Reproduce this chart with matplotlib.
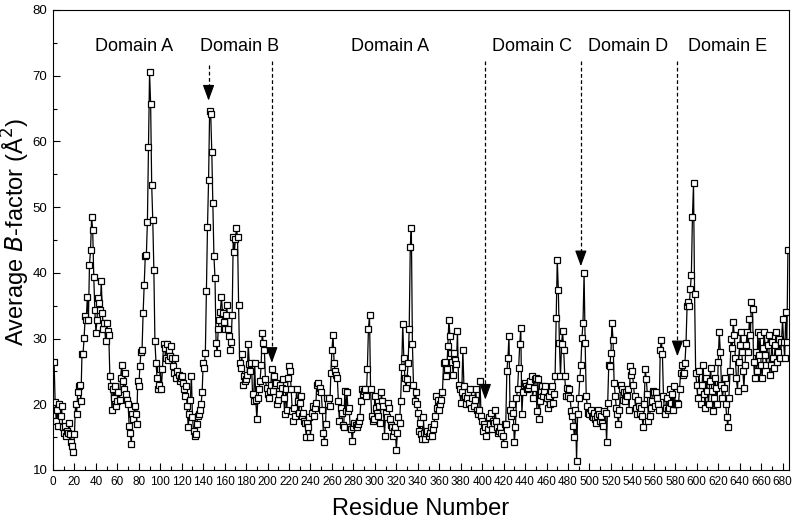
import numpy as np
import matplotlib
matplotlib.use("Agg")
import matplotlib.pyplot as plt
from matplotlib.ticker import MultipleLocator

# Average B-factor per residue
b_factor = [
    26.5, 20.3, 17.5, 19.2, 16.7, 20.0, 18.2, 19.7, 16.5, 15.7,
    16.7, 15.2, 16.0, 15.7, 17.2, 15.5, 14.2, 13.7, 12.8, 15.5,
    20.0, 18.5, 21.8, 22.8, 23.0, 20.5, 27.6, 27.7, 30.1, 33.4,
    32.8, 36.4, 32.8, 41.2, 43.5, 48.5, 46.5, 39.4, 34.3, 30.9,
    32.8, 36.2, 35.4, 34.4, 38.7, 33.9, 31.4, 32.4, 29.6, 32.4,
    31.1, 30.6, 24.3, 22.8, 19.2, 22.3, 21.0, 22.8, 19.7, 20.5,
    21.8, 20.7, 24.0, 26.0, 23.5, 22.3, 24.8, 21.5, 20.7, 20.0,
    16.7, 15.7, 13.9, 18.5, 17.7, 19.7, 18.5, 17.0, 23.5, 22.8,
    25.8, 28.0, 28.3, 33.9, 38.2, 42.5, 42.7, 47.8, 59.1, 70.5,
    65.7, 53.3, 48.0, 40.5, 29.6, 26.3, 24.0, 22.3, 23.0, 25.3,
    22.3, 25.3, 29.1, 28.6, 27.0, 29.1, 26.8, 28.3, 27.3, 28.8,
    27.0, 25.8, 24.8, 27.0, 24.0, 25.0, 24.5, 23.5, 24.0, 24.3,
    23.2, 22.3, 21.3, 22.8, 19.7, 16.5, 18.5, 20.7, 24.3, 18.0,
    16.0, 15.2, 15.5, 17.0, 18.2, 18.5, 19.2, 20.0, 21.8, 26.3,
    25.5, 27.8, 37.2, 47.0, 54.1, 64.7, 64.2, 58.4, 50.6, 42.5,
    39.2, 29.3, 27.8, 31.4, 32.9, 34.1, 36.4, 33.9, 32.5, 31.4,
    33.6, 35.1, 31.4, 30.4, 28.3, 29.5, 33.6, 45.4, 43.1, 45.1,
    46.8, 45.4, 35.1, 26.3, 25.5, 27.6, 23.0, 24.3, 23.5, 23.8,
    24.5, 29.1, 26.1, 25.1, 26.3, 21.5, 20.5, 26.3, 20.7, 17.7,
    21.0, 22.3, 23.5, 26.0, 30.9, 29.3, 28.3, 23.8, 22.5, 21.5,
    21.0, 22.0, 23.0, 25.3, 22.0, 24.3, 23.0, 23.3, 20.0, 20.7,
    21.5, 23.0, 22.5, 23.8, 21.0, 18.5, 22.3, 19.2, 24.0, 25.8,
    25.0, 22.3, 19.0, 17.5, 19.5, 18.2, 22.3, 20.5, 18.7, 20.2,
    21.3, 18.2, 18.7, 17.5, 17.2, 15.0, 17.2, 16.5, 18.0, 15.0,
    18.7, 19.7, 18.2, 19.5, 20.2, 23.0, 23.3, 22.0, 22.5, 21.8,
    19.2, 15.7, 14.2, 17.0, 21.0, 20.0, 21.0, 19.7, 24.8, 28.3,
    30.6, 26.3, 25.0, 24.5, 24.0, 20.5, 17.5, 19.5, 18.7, 16.8,
    16.5, 22.0, 19.0, 21.8, 19.0, 19.5, 16.5, 16.2, 14.4, 16.5,
    17.2, 16.8, 16.5, 17.0, 17.5, 18.0, 20.5, 22.3, 21.5, 22.0,
    22.3, 21.3, 25.3, 31.4, 33.6, 22.3, 18.2, 17.5, 17.7, 21.3,
    19.5, 18.7, 18.2, 19.7, 17.2, 21.8, 20.5, 19.7, 15.2, 18.7,
    18.0, 20.2, 19.5, 17.7, 16.8, 16.5, 15.2, 16.0, 16.5, 13.0,
    15.7, 18.0, 17.2, 20.5, 25.6, 32.2, 27.0, 24.0, 22.5, 23.8,
    26.3, 31.4, 44.0, 46.8, 29.1, 23.0, 20.5, 21.8, 20.0, 18.7,
    16.0, 17.2, 15.5, 14.7, 18.0, 15.7, 14.7, 15.7, 16.0, 15.2,
    15.7, 16.5, 15.2, 16.2, 17.0, 18.2, 21.3, 19.5, 20.7, 19.2,
    20.0, 20.7, 21.8, 26.3, 26.5, 24.3, 25.3, 28.8, 32.9, 30.4,
    27.8, 26.5, 24.5, 27.8, 26.8, 26.1, 31.1, 23.0, 22.3, 20.2,
    21.8, 28.3, 22.8, 21.3, 20.0, 21.0, 21.8, 20.2, 22.3, 19.5,
    21.0, 19.7, 20.7, 22.3, 19.2, 18.5, 19.2, 23.5, 18.2, 17.5,
    16.0, 17.0, 16.5, 15.2, 16.2, 18.0, 17.0, 18.7, 16.2, 17.5,
    17.2, 19.2, 17.5, 16.5, 15.7, 16.0, 16.5, 15.7, 15.2, 13.9,
    17.0, 17.0, 25.0, 27.0, 30.4, 19.2, 18.2, 20.0, 18.7, 14.2,
    16.5, 21.0, 22.3, 25.5, 29.1, 31.6, 18.5, 21.8, 23.0, 23.3,
    22.8, 22.3, 22.5, 23.0, 23.5, 24.3, 21.0, 22.5, 23.8, 24.0,
    19.0, 23.8, 17.7, 20.5, 22.0, 22.8, 21.3, 22.0, 22.8, 21.0,
    19.5, 21.3, 20.0, 22.0, 22.8, 20.2, 21.5, 24.3, 33.2, 42.0,
    37.4, 29.3, 24.3, 29.1, 31.1, 28.3, 24.3, 21.3, 22.5, 21.3,
    22.3, 21.0, 19.0, 18.2, 16.7, 15.0, 19.2, 11.4, 18.5, 21.0,
    24.0, 26.0, 30.1, 32.4, 40.0, 29.3, 21.3, 19.7, 18.7, 18.5,
    19.2, 18.2, 18.0, 18.7, 17.7, 17.2, 18.2, 19.2, 18.5, 17.5,
    18.2, 17.2, 16.7, 19.0, 18.7, 14.2, 20.2, 26.0, 25.8, 27.8,
    32.4, 29.8, 23.3, 21.3, 19.5, 18.5, 17.0, 19.2, 23.0, 22.3,
    20.7, 21.8, 20.5, 21.8, 21.3, 22.3, 19.2, 25.8, 24.5, 25.0,
    23.0, 21.3, 19.5, 18.5, 20.7, 19.7, 18.7, 19.5, 18.2, 16.5,
    20.0, 25.3, 23.8, 21.5, 17.5, 18.2, 19.5, 20.5, 22.0, 21.8,
    19.7, 21.8, 21.0, 20.0, 19.2, 28.3, 29.8, 27.6, 21.3, 18.5,
    19.5, 21.0, 19.2, 19.5, 22.3, 20.2, 21.5, 19.2, 22.8, 20.0,
    20.0, 20.2, 20.0, 22.3, 24.8, 26.0, 24.5, 24.8, 26.3, 29.3,
    34.9, 35.6, 34.9, 37.5, 39.7, 48.5, 53.6, 36.8, 24.8, 23.0,
    21.0, 25.0, 22.0, 20.0, 23.0, 26.0, 21.5, 19.5, 24.0, 22.0,
    20.0, 23.5, 25.5, 22.0, 19.0, 21.0, 24.0, 22.5, 20.0, 26.5,
    31.0, 28.0, 23.0, 21.0, 22.5, 24.0, 20.0, 18.0, 16.5, 21.0,
    25.0, 30.0, 28.5, 32.5, 30.5, 27.0, 24.0, 22.0, 26.5, 29.0,
    31.0, 28.0, 25.0, 22.5, 26.0, 29.0, 31.0, 28.0, 33.0, 30.5,
    35.5, 34.5, 26.5, 24.0, 28.0, 25.0, 31.0, 27.5, 30.5, 26.0,
    24.0, 28.5, 31.0, 27.5, 26.0, 29.0, 30.5, 24.5, 26.0, 29.5,
    27.0, 25.5, 29.0, 31.0, 26.5, 28.0, 30.0, 27.0, 29.5, 33.0,
    29.5, 27.0, 34.0, 29.5, 43.5,
]
residue = np.arange(1, len(b_factor) + 1)

# domain names and where they are written
domain_names = ["Domain A", "Domain B", "Domain A", "Domain C", "Domain D", "Domain E"]
domain_x = [76, 174, 314, 446, 536, 629]

# dashed boundary arrows: residue, top of line, arrow tip
arrow_res = [145, 204, 403, 492, 582]
arrow_top = [71.7, 72.3, 72.3, 72.3, 72.3]
arrow_tip = [66.2, 26.3, 20.7, 41.0, 27.3]

plt.rcParams["font.family"] = ["Liberation Sans", "DejaVu Sans"]

fig = plt.figure(figsize=(7.94, 5.30), dpi=100)
ax = fig.add_axes([53 / 794, 60 / 530, 736 / 794, 460 / 530])

ax.plot(residue, b_factor, color="black", lw=0.9, marker="s", markersize=4.6,
        markerfacecolor="white", markeredgecolor="black", markeredgewidth=0.9)

for r, top, tip in zip(arrow_res, arrow_top, arrow_tip):
    ax.plot([r, r], [top, tip + 1.5], color="black", lw=0.9, ls=(0, (3, 2)))
    ax.annotate("", xy=(r, tip), xytext=(r, tip + 2.0),
                arrowprops=dict(arrowstyle="-|>,head_length=0.6,head_width=0.22",
                                color="black", lw=0.9, shrinkA=0, shrinkB=0,
                                mutation_scale=16))

for name, x in zip(domain_names, domain_x):
    ax.text(x, 74.4, name, ha="center", va="center", fontsize=13)

ax.set_xlim(0, 686)
ax.set_ylim(10, 80)
ax.xaxis.set_major_locator(MultipleLocator(20))
ax.xaxis.set_minor_locator(MultipleLocator(10))
ax.yaxis.set_major_locator(MultipleLocator(10))
ax.yaxis.set_minor_locator(MultipleLocator(5))
ax.tick_params(which="both", direction="in", top=False, right=False)
ax.tick_params(which="major", length=5, width=0.8)
ax.tick_params(which="minor", length=3, width=0.8)
for lab in ax.get_xticklabels():
    lab.set_fontfamily(["Liberation Sans Narrow", "Liberation Sans"])
ax.tick_params(axis="x", labelsize=8.5, pad=4)
ax.tick_params(axis="y", labelsize=9.5, pad=4)
for s in ax.spines.values():
    s.set_linewidth(0.8)

ax.set_xlabel("Residue Number", fontsize=17)
ax.xaxis.set_label_coords(0.499, -0.060)
ax.set_ylabel("Average $\\it{B}$-factor (Å$^2$)", fontsize=17)
ax.yaxis.set_label_coords(-0.028, 0.517)

fig.savefig("out.png", dpi=100)
